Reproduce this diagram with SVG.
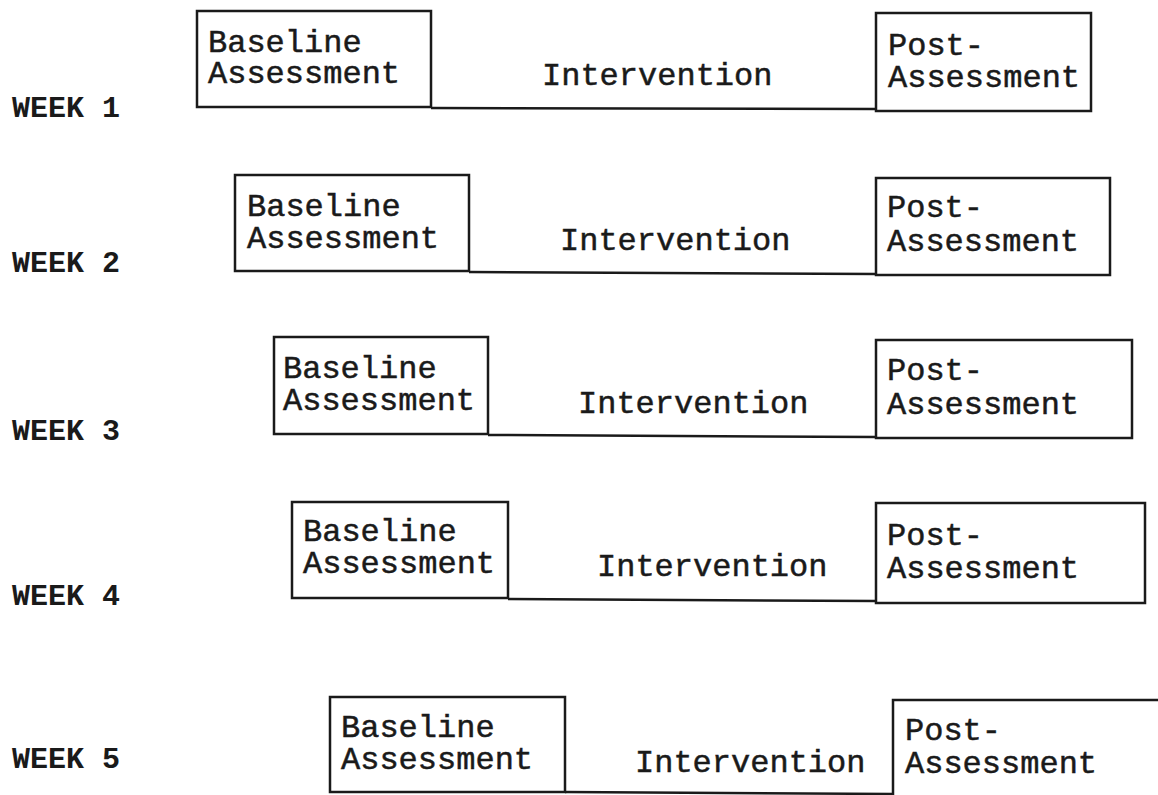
<svg xmlns="http://www.w3.org/2000/svg" width="1158" height="795" viewBox="0 0 1158 795">
  <style>
    .box { fill: #ffffff; stroke: #1a1a1a; stroke-width: 2.5; }
    .conn { stroke: #1a1a1a; stroke-width: 2.5; fill: none; }
    .t { font-family: "Liberation Mono", "Courier New", monospace; font-size: 32px; fill: #1a1a1a; stroke: #1a1a1a; stroke-width: 0.5; }
    .wk { font-family: "Liberation Mono", "Courier New", monospace; font-size: 30px; font-weight: bold; fill: #1a1a1a; }
  </style>
  <rect width="1158" height="795" fill="#ffffff"/>

  <g id="connectors">
    <line class="conn" x1="431" y1="108" x2="876" y2="109"/>
    <text class="t" x="542" y="85">Intervention</text>
    <line class="conn" x1="469" y1="272" x2="876" y2="274"/>
    <text class="t" x="560" y="250">Intervention</text>
    <line class="conn" x1="488" y1="435" x2="876" y2="437"/>
    <text class="t" x="578" y="413">Intervention</text>
    <line class="conn" x1="508" y1="599" x2="876" y2="601"/>
    <text class="t" x="597" y="576">Intervention</text>
    <line class="conn" x1="565" y1="792" x2="893" y2="794"/>
    <text class="t" x="635" y="772">Intervention</text>
  </g>

  <g id="week1"><text class="wk" x="12" y="117">WEEK 1</text></g>
  <g id="week2"><text class="wk" x="12" y="272">WEEK 2</text></g>
  <g id="week3"><text class="wk" x="12" y="440">WEEK 3</text></g>
  <g id="week4"><text class="wk" x="12" y="605">WEEK 4</text></g>
  <g id="week5"><text class="wk" x="12" y="768">WEEK 5</text></g>

  <g id="baseline1">
    <rect class="box" x="197" y="11" width="234" height="96"/>
    <text class="t" x="208" y="52">Baseline</text>
    <text class="t" x="208" y="83">Assessment</text>
  </g>
  <g id="post1">
    <rect class="box" x="876" y="13" width="215" height="98"/>
    <text class="t" x="888" y="55">Post-</text>
    <text class="t" x="888" y="87">Assessment</text>
  </g>

  <g id="baseline2">
    <rect class="box" x="235" y="175" width="234" height="96"/>
    <text class="t" x="247" y="216">Baseline</text>
    <text class="t" x="247" y="248">Assessment</text>
  </g>
  <g id="post2">
    <rect class="box" x="876" y="178" width="234" height="97"/>
    <text class="t" x="887" y="217">Post-</text>
    <text class="t" x="887" y="251">Assessment</text>
  </g>

  <g id="baseline3">
    <rect class="box" x="274" y="337" width="214" height="97"/>
    <text class="t" x="283" y="378">Baseline</text>
    <text class="t" x="283" y="410">Assessment</text>
  </g>
  <g id="post3">
    <rect class="box" x="876" y="340" width="256" height="98"/>
    <text class="t" x="887" y="380">Post-</text>
    <text class="t" x="887" y="414">Assessment</text>
  </g>

  <g id="baseline4">
    <rect class="box" x="292" y="502" width="216" height="96"/>
    <text class="t" x="303" y="541">Baseline</text>
    <text class="t" x="303" y="573">Assessment</text>
  </g>
  <g id="post4">
    <rect class="box" x="876" y="503" width="269" height="100"/>
    <text class="t" x="887" y="545">Post-</text>
    <text class="t" x="887" y="578">Assessment</text>
  </g>

  <g id="baseline5">
    <rect class="box" x="330" y="697" width="235" height="95"/>
    <text class="t" x="341" y="737">Baseline</text>
    <text class="t" x="341" y="769">Assessment</text>
  </g>
  <g id="post5">
    <rect class="box" x="893" y="700" width="270" height="100"/>
    <text class="t" x="905" y="740">Post-</text>
    <text class="t" x="905" y="773">Assessment</text>
  </g>
</svg>
